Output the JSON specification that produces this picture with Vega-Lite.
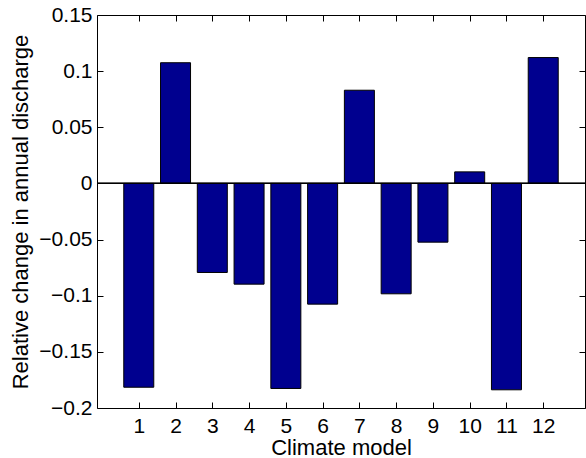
{
  "$schema": "https://vega.github.io/schema/vega-lite/v6.json",
  "autosize": "none",
  "width": 488,
  "height": 393,
  "padding": {"left": 97, "top": 15, "right": 1, "bottom": 50},
  "background": "white",
  "config": {
    "font": "Liberation Sans",
    "view": {"stroke": "black", "strokeWidth": 1},
    "axis": {
      "grid": false,
      "domain": false,
      "tickColor": "black",
      "tickSize": -6,
      "tickWidth": 1,
      "labelColor": "black",
      "titleColor": "black",
      "labelFont": "Liberation Sans",
      "titleFont": "Liberation Sans",
      "labelFontSize": 21,
      "titleFontSize": 22,
      "titleFontWeight": "normal"
    }
  },
  "data": {
    "values": [
      {"model": 1, "change": -0.1815},
      {"model": 2, "change": 0.1075},
      {"model": 3, "change": -0.0793},
      {"model": 4, "change": -0.0897},
      {"model": 5, "change": -0.1826},
      {"model": 6, "change": -0.1075},
      {"model": 7, "change": 0.0830},
      {"model": 8, "change": -0.0983},
      {"model": 9, "change": -0.0523},
      {"model": 10, "change": 0.0103},
      {"model": 11, "change": -0.1838},
      {"model": 12, "change": 0.1121}
    ]
  },
  "layer": [
    {
      "mark": {"type": "bar", "size": 30, "color": "#00008F", "stroke": "black", "strokeWidth": 1},
      "encoding": {
        "x": {
          "field": "model",
          "type": "quantitative",
          "scale": {"domain": [0, 13], "nice": false, "zero": false},
          "axis": {
            "orient": "bottom",
            "values": [1, 2, 3, 4, 5, 6, 7, 8, 9, 10, 11, 12],
            "labelPadding": 13,
            "title": "Climate model",
            "titlePadding": 1
          }
        },
        "y": {
          "field": "change",
          "type": "quantitative",
          "scale": {"domain": [-0.2, 0.15], "nice": false},
          "axis": {
            "orient": "left",
            "values": [-0.2, -0.15, -0.1, -0.05, 0, 0.05, 0.1, 0.15],
            "format": "~g",
            "labelPadding": 11,
            "title": "Relative change in annual discharge",
            "titlePadding": 6
          }
        }
      }
    },
    {
      "mark": {"type": "rule", "color": "black", "strokeWidth": 1},
      "encoding": {"y": {"datum": 0, "type": "quantitative", "axis": null}}
    },
    {
      "mark": {"type": "point", "opacity": 0},
      "encoding": {
        "x": {
          "field": "model",
          "type": "quantitative",
          "axis": {
            "orient": "top",
            "values": [1, 2, 3, 4, 5, 6, 7, 8, 9, 10, 11, 12],
            "labels": false,
            "title": null
          }
        },
        "y": {
          "field": "change",
          "type": "quantitative",
          "axis": {
            "orient": "right",
            "values": [-0.2, -0.15, -0.1, -0.05, 0, 0.05, 0.1, 0.15],
            "labels": false,
            "title": null
          }
        }
      }
    }
  ],
  "resolve": {"axis": {"x": "independent", "y": "independent"}}
}
